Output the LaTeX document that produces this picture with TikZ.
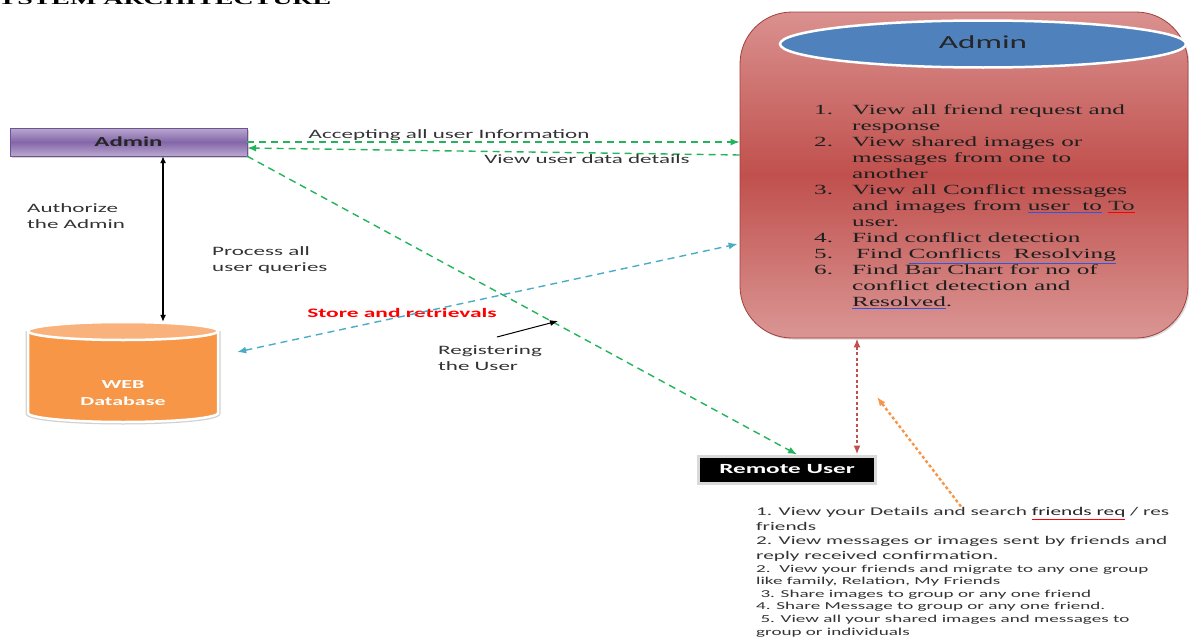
\documentclass[tikz,border=0pt]{standalone}
\usepackage{fontspec}
\setmainfont{Liberation Serif}[FakeStretch=1.8]
\newfontfamily\calib{Carlito}[FakeStretch=1.8]
\usetikzlibrary{shapes,shadows,positioning,arrows.meta,calc}

\definecolor{admintop}{HTML}{B9A8D0}
\definecolor{adminmid}{HTML}{8466A8}
\definecolor{adminedge}{HTML}{6E5394}
\definecolor{paneltop}{HTML}{DA918F}
\definecolor{panelmid}{HTML}{C0504D}
\definecolor{panelbot}{HTML}{DA9694}
\definecolor{paneledge}{HTML}{A33E3B}
\definecolor{ovalblue}{HTML}{4F81BD}
\definecolor{dbbody}{HTML}{F79646}
\definecolor{dbtop}{HTML}{FAB27C}
\definecolor{linkgreen}{HTML}{22B45A}
\definecolor{linkblue}{HTML}{4BACC6}
\definecolor{linkred}{HTML}{C0504D}
\definecolor{linkorange}{HTML}{F79646}
\definecolor{ulblue}{HTML}{3355DD}

\newcommand\blueline[1]{\textcolor{ulblue}{\underline{\textcolor{black!88}{#1}}}}
\newcommand\redline[1]{\textcolor{red}{\underline{\textcolor{black!85}{#1}}}}
\newcommand\rowsize[1]{\fontsize{#1}{12.6}\selectfont}

\tikzstyle{adminbox}=[rectangle, draw=adminedge, top color=admintop, bottom color=admintop, middle color=adminmid, minimum width=237pt, minimum height=28pt, font=\calib\fontsize{13.8}{16}\selectfont\bfseries, text=black!85, drop shadow={shadow xshift=2pt, shadow yshift=-2pt, opacity=0.35}]
\tikzstyle{panel}=[rectangle, rounded corners=52pt, draw=paneledge, thick, top color=paneltop, bottom color=panelbot, middle color=panelmid, minimum width=448pt, minimum height=326pt, drop shadow={shadow xshift=1.5pt, shadow yshift=-1.5pt, opacity=0.3}]
\tikzstyle{titleoval}=[ellipse, fill=ovalblue, draw=white, line width=2.5pt, minimum width=406pt, minimum height=47pt, font=\calib\fontsize{18.4}{20}\selectfont, text=black!85, drop shadow={shadow xshift=1pt, shadow yshift=-1.5pt, opacity=0.3}]
\tikzstyle{remotebox}=[rectangle, fill=black, draw=black!15, line width=3pt, minimum width=177pt, minimum height=27pt, font=\calib\fontsize{14}{16}\selectfont\bfseries, text=white]
\tikzstyle{dbbox}=[rectangle, minimum width=190pt, minimum height=98pt, inner sep=0pt]
\tikzstyle{dbtext}=[align=center, font=\calib\fontsize{12.2}{17}\selectfont\bfseries, text=white]
\tikzstyle{note}=[font=\calib\fontsize{12.8}{16}\selectfont, text=black!80, align=left, inner sep=0pt]
\tikzstyle{edgelabel}=[font=\calib\fontsize{12.8}{15.6}\selectfont, text=black!80, inner sep=1pt]
\tikzstyle{alert}=[font=\calib\fontsize{13}{15.6}\selectfont\bfseries, text=red]
\tikzstyle{tasklist}=[font=\fontsize{14}{16}\selectfont, text=black!88, inner sep=0pt]
\tikzstyle{featurelist}=[font=\calib\fontsize{11.5}{12.6}\selectfont, text=black!80, inner sep=0pt]
\tikzstyle{greenedge}=[draw=linkgreen, line width=1.4pt, dash pattern=on 7pt off 5pt, ->]
\tikzstyle{blueedge}=[draw=linkblue, line width=1.4pt, dash pattern=on 7pt off 5pt, <->]
\tikzstyle{rededge}=[draw=linkred, line width=2.4pt, dash pattern=on 3pt off 2.5pt, <->]
\tikzstyle{orangeedge}=[draw=linkorange, line width=2.4pt, dash pattern=on 3pt off 2.5pt, ->]
\tikzstyle{blackedge}=[draw, line width=1.2pt, >={Latex[length=7pt,width=6pt]}, <->]
\tikzstyle{pointer}=[draw, line width=1pt, >={Latex[length=8pt,width=6pt]}, ->]

\begin{document}
\begin{tikzpicture}[x=1pt, y=1pt, >={Latex[length=9pt,width=7pt]}]
    \useasboundingbox (0,0) rectangle (1189,-637);
    \clip (0,0) rectangle (1189,-637);

    % heading, cut off by the top edge
    \node[anchor=base west, inner sep=0pt, font=\fontsize{15.5}{18}\selectfont\bfseries] (heading) at (-3,-5) {YSTEM ARCHITECTURE};

    % the web database drum
    \begin{scope}[shift={(123,-371)}]
        \path[draw=black!18, line width=5pt] (-95,40) -- (-95,-42) arc[start angle=180, end angle=360, x radius=95, y radius=9] -- (95,40);
        \path[fill=dbbody, draw=white, line width=2.5pt] (-95,40) -- (-95,-42) arc[start angle=180, end angle=360, x radius=95, y radius=9] -- (95,40);
        \path[fill=dbtop, draw=white, line width=2.5pt] (0,40) ellipse[x radius=95, y radius=9];
    \end{scope}
    \node[dbbox] (db) at (123,-371) {};
    \node[dbtext] (dbname) at ($(db.center)+(0,-22)$) {WEB\\Database};

    % boxes
    \node[adminbox] (admin) at (128.5,-142) {Admin};
    \node[panel] (panel) at (964,-175) {};
    \node[titleoval] (title) at (983,-44) {\raisebox{3pt}{Admin}};
    \node[remotebox] (remote) at (787,-469.5) {Remote User};

    % what the admin can do
    \node[tasklist, anchor=north west] (tasks) at (814,-103) {%
        \begin{tabular}{@{}p{38pt}@{}l@{}}
        1. & View all friend request and\\
           & response\\
        2. & View shared images or\\
           & messages from one to\\
           & another\\
        3. & View all Conflict messages\\
           & and images from \blueline{user\ \ to} \redline{To}\\
           & user.\\
        4. & Find conflict detection\\
        5. & \hspace{4pt}Find \blueline{Conflicts\ \ Resolving}\\
        6. & Find Bar Chart for no of\\
           & conflict detection and\\
           & \blueline{Resolved}.
        \end{tabular}};

    % what the remote user can do
    \node[featurelist, anchor=north west] (features) at (756,-506.5) {%
        \begin{tabular}{@{}l@{}}
        \rowsize{11.8}1. View your Details and search \redline{friends req} / res\\[1.9pt]
        \rowsize{11.8}friends\\[1.9pt]
        \rowsize{11.8}2. View messages or images sent by friends and\\[1.9pt]
        \rowsize{11.8}reply received confirmation.\\[0.4pt]
        \rowsize{10.6}2.\ \ View your friends and migrate to any one group\\
        \rowsize{10.6}like family, Relation, My Friends\\
        \rowsize{10.6}\ 3. Share images to group or any one friend\\
        \rowsize{10.6}4. Share Message to group or any one friend.\\
        \rowsize{10.6}\ 5. View all your shared images and messages to\\
        \rowsize{10.6}group or individuals
        \end{tabular}};

    % free labels
    \node[note, anchor=north west] (authorize) at (27,-203) {Authorize\\the Admin};
    \node[note, anchor=north west] (process) at (212,-246) {Process all\\user queries};
    \node[note, anchor=north west] (register) at (438,-345) {Registering\\the User};
    \node[alert] (store) at (402,-313) {Store and retrievals};

    \coordinate (regtip) at (558,-321);
    \coordinate (reach) at (877,-397);

    % connectors
    \path[greenedge] (admin.east) -- node[edgelabel, above, pos=0.41] {Accepting all user Information} (admin.east -| panel.west);
    \path[greenedge] ([yshift=20pt]panel.west) -- node[edgelabel, below, pos=0.31] {View user data details} ([yshift=-6pt]admin.east);
    \path[greenedge] (admin.south east) -- ([xshift=10pt]remote.north);
    \path[blackedge] ([xshift=34.5pt]admin.south) -- ([xshift=40pt]db.north);
    \path[blueedge] ([shift={(19pt,19pt)}]db.east) -- ([shift={(-2pt,-69pt)}]panel.west);
    \path[rededge] ([xshift=-107pt]panel.south) -- ([xshift=70pt]remote.north);
    \path[orangeedge] ([xshift=205pt]features.north west) -- (reach);
    \path[pointer] ([xshift=59pt,yshift=8pt]register.north west) -- (regtip);
\end{tikzpicture}
\end{document}
